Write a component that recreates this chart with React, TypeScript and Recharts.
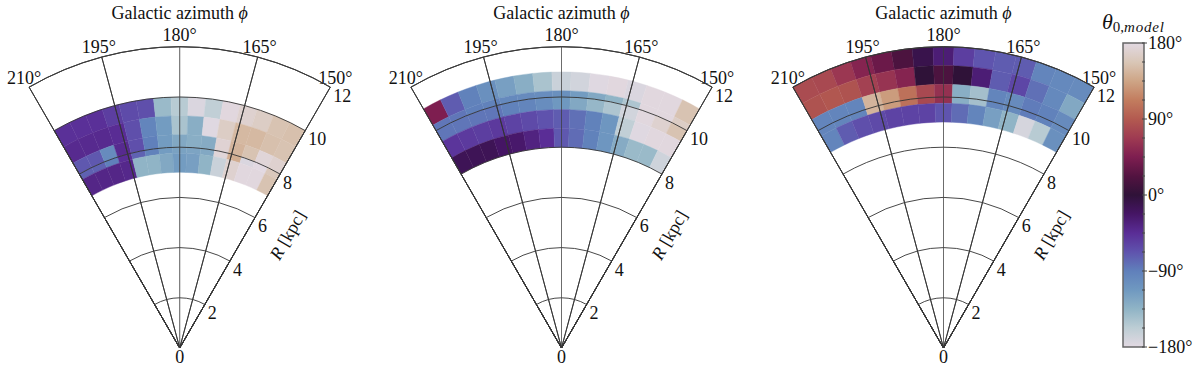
import React from "react";
import { Bar, BarChart, Pie, PieChart, XAxis, YAxis } from "recharts";

// twilight_shifted
const cmapAngles = [-180, -157, -135, -112, -90, -67, -45, -22, 0, 22, 45, 67, 90, 112, 135, 157, 180];
const cmapColors = [
  "#e2d9e2", "#bccdd4", "#90b4c6", "#6f98c0", "#6080bb", "#5f52ad", "#5a2d96", "#451564",
  "#2f1238", "#521340", "#7e1e50", "#9e3a52", "#b35a50", "#c27c5e", "#cea586", "#d9c6b6", "#e2d9e2",
];

const azimuthTicks = [210, 195, 180, 165, 150];
const radiusTicks = [2, 4, 6, 8, 10, 12];
const barTicks = [
  -180, -157.5, -135, -112.5, -90, -67.5, -45, -22.5, 0, 22.5, 45, 67.5, 90, 112.5, 135, 157.5, 180,
];

// radial bin edges (kpc), outer to inner, one row of 15 cells (4 deg wide) per band
const edgesA = [10, 9.25, 8.5, 8, 7.75, 7];
const thetaA = [
  [-47, -47, -47, -55, -63, -65, -140, -155, -175, -160, 178, 170, 165, 155, 153],
  [-42, -42, -42, -44, -65, -95, -115, -148, -130, -178, 165, 148, 148, 153, 155],
  [-70, -70, -100, -42, -65, -90, -115, -125, -130, -128, 172, 145, 155, 175, 170],
  [-75, -75, -90, -45, -75, -92, -115, -120, -122, -125, 175, 140, -175, 180, 160],
  [-38, -38, -38, -40, -135, -135, -125, -115, -118, -135, -165, 170, 178, 178, 155],
];

const edgesB = [11, 10.25, 10, 9.5, 8.75, 8];
const thetaB = [
  [45, -72, -92, -105, -118, -130, -148, -165, -170, -178, 178, -175, 178, 178, 155],
  [-85, -85, -90, -92, -98, -100, -102, -105, -115, -125, -135, -150, 178, 178, 165],
  [-85, -85, -85, -85, -92, -95, -102, -112, -125, -138, -150, -170, 178, 170, 155],
  [-50, -53, -55, -52, -58, -62, -67, -72, -82, -92, -110, -160, -178, 178, 178],
  [-15, -15, -15, -22, -25, -35, -45, -70, -80, -92, -110, -128, -140, -140, -168],
];

const edgesC = [12, 11.25, 10.5, 9.75, 9];
const thetaC = [
  [80, 78, 65, 50, 35, 18, -10, -30, -55, -68, -72, -72, -95, -98, -100],
  [85, 88, 85, 72, 62, 50, 0, 18, 0, -30, -72, -60, -82, -98, -125],
  [-95, -95, -95, 145, 130, 105, 78, 60, -130, -145, -95, -100, -88, -92, -100],
  [-95, -72, -65, -62, -58, -58, -58, -68, -80, -95, -118, -135, -172, -155, -105],
];

const colourOf = (theta: number) => {
  const i = Math.min(cmapAngles.findIndex((a) => a >= theta), cmapAngles.length - 1);
  if (i <= 0) return cmapColors[0];
  const t = (theta - cmapAngles[i - 1]) / (cmapAngles[i] - cmapAngles[i - 1]);
  const rgb = (hex: string) => [1, 3, 5].map((k) => parseInt(hex.slice(k, k + 2), 16));
  const lo = rgb(cmapColors[i - 1]);
  const hi = rgb(cmapColors[i]);
  return `rgb(${lo.map((v, k) => Math.round(v + (hi[k] - v) * t)).join(",")})`;
};

const panels = [
  { cx: 179.7, edges: edgesA, theta: thetaA },
  { cx: 561.5, edges: edgesB, theta: thetaB },
  { cx: 943.5, edges: edgesC, theta: thetaC },
];

const CY = 348;
const KPC = 25.1;
const SERIF = "'Liberation Serif', serif";
const START = 120; // azimuth 210 deg, 90 is straight up
const END = 60; // azimuth 150 deg

const wedgeProps = (cx: number) => ({
  cx,
  cy: CY,
  startAngle: START,
  endAngle: END,
  dataKey: "value",
  isAnimationActive: false,
  labelLine: false,
  label: false,
  legendType: "none" as const,
});

// heat cells, one Pie per radial band
const heatRings = (cx: number, edges: number[], theta: number[][]) =>
  theta.map((row, r) => (
    <Pie
      key={`ring-${cx}-${r}`}
      {...wedgeProps(cx)}
      data={row.map((v) => ({ value: 4, fill: colourOf(v), stroke: colourOf(v) }))}
      outerRadius={edges[r] * KPC}
      innerRadius={edges[r + 1] * KPC}
      strokeWidth={0.4}
    />
  ));

const gridLines = (cx: number) => (
  <React.Fragment key={`grid-${cx}`}>
    {radiusTicks.map((r) => (
      <Pie
        key={r}
        {...wedgeProps(cx)}
        data={[{ value: 1 }]}
        innerRadius={0}
        outerRadius={r * KPC}
        fill="none"
        stroke="#333"
        strokeWidth={0.9}
      />
    ))}
    {/* 195 and 165 deg */}
    <Pie
      {...wedgeProps(cx)}
      data={[{ value: 1 }, { value: 2 }, { value: 1 }]}
      innerRadius={0}
      outerRadius={12 * KPC}
      fill="none"
      stroke="#333"
      strokeWidth={0.9}
    />
    {/* 180 deg is fainter in the original */}
    <Pie
      {...wedgeProps(cx)}
      data={[{ value: 1 }, { value: 1 }]}
      innerRadius={0}
      outerRadius={12 * KPC}
      fill="none"
      stroke="rgba(60,60,60,0.5)"
      strokeWidth={1}
    />
  </React.Fragment>
);

const azimuthOffset: Record<number, [number, number]> = {
  210: [-5, -9],
  195: [-3, -10],
  180: [0, -12],
  165: [2, -10],
  150: [5, -9],
};

const WedgeText = ({ cx }: { cx: number }) => {
  const textStyle = { fontFamily: SERIF, fontSize: 18, fill: "#111" };
  return (
    <g style={textStyle}>
      <text x={cx} y={19} textAnchor="middle">
        Galactic azimuth <tspan fontStyle="italic">ϕ</tspan>
      </text>
      {azimuthTicks.map((a) => {
        const rad = ((a - 180) * Math.PI) / 180;
        const x = cx - 12 * KPC * Math.sin(rad) + azimuthOffset[a][0];
        const y = CY - 12 * KPC * Math.cos(rad) + azimuthOffset[a][1];
        return (
          <text key={a} x={x} y={y} textAnchor="middle" dominantBaseline="central">
            {a}°
          </text>
        );
      })}
      {radiusTicks.map((r) => (
        <text
          key={r}
          x={cx + r * KPC * 0.5 + 3}
          y={CY - r * KPC * 0.866 + 8.5}
          dominantBaseline="central"
        >
          {r}
        </text>
      ))}
      <text x={cx} y={CY + 8.5} textAnchor="middle" dominantBaseline="central">
        0
      </text>
      <text
        x={cx + 108}
        y={235}
        textAnchor="middle"
        dominantBaseline="central"
        transform={`rotate(-60 ${cx + 108} 235)`}
      >
        <tspan fontStyle="italic">R</tspan> [kpc]
      </text>
    </g>
  );
};

const barData = [{ name: "theta", range: [-180, 180] }];

const barLabel = (v: number) => (v < 0 ? `\u2212${-v}°` : `${v}°`);

const BarTick = ({ x, y, payload }: any) => {
  const major = payload.value % 90 === 0;
  const edge = x - 8; // right side of the bar
  return (
    <g>
      <line x1={edge - 2} x2={edge + (major ? 3 : 1)} y1={y} y2={y} stroke="#444" strokeWidth={1} />
      {major && (
        <text x={edge + 4} y={y} dominantBaseline="central" fontFamily={SERIF} fontSize={18} fill="#111">
          {barLabel(payload.value)}
        </text>
      )}
    </g>
  );
};

export default function App() {
  return (
    <div style={{ position: "absolute", left: 0, top: 0, width: 1200, height: 373, background: "#fff" }}>
      <div style={{ position: "absolute", left: 0, top: 0 }}>
        <PieChart width={1200} height={373} margin={{ top: 0, right: 0, bottom: 0, left: 0 }}>
          {panels.map((p) => heatRings(p.cx, p.edges, p.theta))}
          {panels.map((p) => gridLines(p.cx))}
          {panels.map((p) => (
            <WedgeText key={p.cx} cx={p.cx} />
          ))}
        </PieChart>
      </div>
      <div style={{ position: "absolute", left: 1080, top: 0 }}>
        <BarChart
          width={120}
          height={373}
          data={barData}
          margin={{ top: 43, right: 0, bottom: 26, left: 43 }}
          barCategoryGap={0}
        >
          <defs>
            <linearGradient id="twilight" x1="0" y1="1" x2="0" y2="0">
              {cmapAngles.map((a, i) => (
                <stop key={a} offset={(a + 180) / 360} stopColor={cmapColors[i]} />
              ))}
            </linearGradient>
          </defs>
          <XAxis dataKey="name" hide />
          <YAxis
            orientation="right"
            width={56}
            type="number"
            domain={[-180, 180]}
            ticks={barTicks}
            interval={0}
            axisLine={false}
            tickLine={false}
            tick={<BarTick />}
          />
          <Bar dataKey="range" fill="url(#twilight)" stroke="#666" strokeWidth={1.5} isAnimationActive={false} />
          <text x={22} y={29} fontFamily={SERIF} fontSize={22} fill="#111" fontStyle="italic">
            θ
            <tspan dy={3} fontSize={15} fontStyle="normal">0,</tspan>
            <tspan fontSize={15} letterSpacing={0.8}>model</tspan>
          </text>
        </BarChart>
      </div>
    </div>
  );
}
